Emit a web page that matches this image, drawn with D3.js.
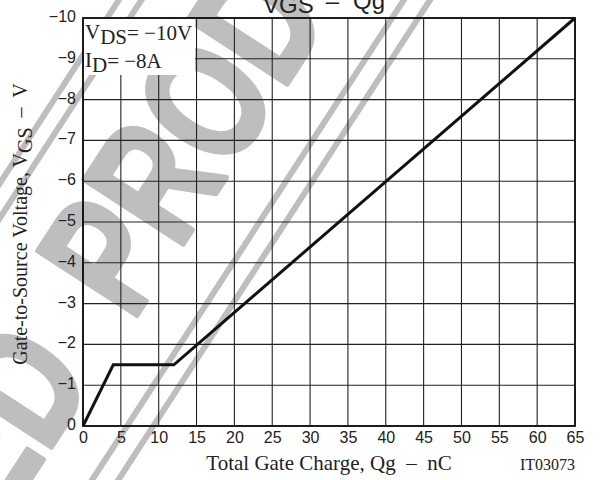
<!DOCTYPE html>
<html>
<head>
<meta charset="utf-8">
<script src="https://cdn.jsdelivr.net/npm/d3@7"></script>
<style>
  body { margin: 0; background: #fff; }
  svg { display: block; }
  .sans { font-family: 'Liberation Sans', Arial, sans-serif; }
  .serif { font-family: 'Liberation Serif', 'Times New Roman', serif; }
</style>
</head>
<body>
<div id="chart"></div>
<script>
// gate charge curve
const qg = [0, 4, 12, 65]
const vgs = [0, -1.5, -1.5, -10]

const xTicks = [0, 5, 10, 15, 20, 25, 30, 35, 40, 45, 50, 55, 60, 65]
const yTicks = [0, -1, -2, -3, -4, -5, -6, -7, -8, -9, -10]

const conditions = [
  { main: 'V', sub: 'DS', rest: '= \u221210V' },
  { main: 'I', sub: 'D', rest: '= \u22128A' },
]

const params = {
  width: 603,
  height: 480,
  left: 83,
  right: 575,
  top: 18,
  bottom: 426,
}

const svg = d3.select('#chart')
  .append('svg')
  .attr('width', params.width)
  .attr('height', params.height)

// watermark behind everything
const wm = svg.append('g')
  .attr('transform', 'translate(132,323) rotate(-57)')
  .attr('fill', '#bebebe')

const wmText = wm.append('g')
  .attr('transform', 'scale(0.74,1)')
  .attr('class', 'sans')
  .attr('stroke', '#bebebe')
  .attr('stroke-width', 5)
  .attr('stroke-linejoin', 'round')
  .style('font-weight', 'bold')
  .style('font-size', '172px')

wmText.append('text').attr('x', 0).attr('y', 0).text('PRODUCT')
wmText.append('text').attr('x', -88).attr('y', 0).attr('text-anchor', 'end').text('DISCONTINUED')

wm.selectAll('line')
  .data([52, 74, -168, -187])
  .enter()
  .append('line')
  .attr('x1', -700).attr('x2', 700)
  .attr('y1', d => d).attr('y2', d => d)
  .attr('stroke', '#bebebe')
  .attr('stroke-width', 6)

const x = d3.scaleLinear().domain([0, 65]).range([params.left, params.right])
const y = d3.scaleLinear().domain([0, -10]).range([params.bottom, params.top])

// grid
const grid = svg.append('g')
  .attr('stroke', '#222')
  .attr('stroke-width', 1.1)

grid.selectAll('.vx')
  .data(xTicks)
  .enter()
  .append('line')
  .attr('x1', d => x(d)).attr('x2', d => x(d))
  .attr('y1', y(0)).attr('y2', y(-10))

grid.selectAll('.hy')
  .data(yTicks)
  .enter()
  .append('line')
  .attr('x1', x(0)).attr('x2', x(65))
  .attr('y1', d => y(d)).attr('y2', d => y(d))

// white box for the test conditions
svg.append('rect')
  .attr('x', x(0) + 1)
  .attr('y', y(-10) + 1)
  .attr('width', x(15) - x(0) - 2.5)
  .attr('height', 56)
  .attr('fill', '#fff')

// frame
svg.append('rect')
  .attr('x', x(0)).attr('y', y(-10))
  .attr('width', x(65) - x(0))
  .attr('height', y(0) - y(-10))
  .attr('fill', 'none')
  .attr('stroke', '#111')
  .attr('stroke-width', 1.8)

// curve
const line = d3.line()
  .x((d, i) => x(qg[i]))
  .y(d => y(d))

svg.append('path')
  .datum(vgs)
  .attr('d', line)
  .attr('fill', 'none')
  .attr('stroke', '#111')
  .attr('stroke-width', 3)
  .attr('stroke-linejoin', 'miter')

// axes labels (no tick marks)
const yAxis = d3.axisLeft(y).tickValues(yTicks).tickSize(0).tickPadding(7)
const xAxis = d3.axisBottom(x).tickValues(xTicks).tickSize(0).tickPadding(6)

const gy = svg.append('g')
  .attr('transform', `translate(${params.left},0)`)
  .call(yAxis)
gy.select('.domain').remove()
gy.selectAll('text')
  .attr('class', 'sans')
  .style('font-size', '16px')
  .attr('dy', '0.22em')
  .attr('fill', '#222')

const gx = svg.append('g')
  .attr('transform', `translate(0,${params.bottom})`)
  .call(xAxis)
gx.select('.domain').remove()
gx.selectAll('text')
  .attr('class', 'sans')
  .style('font-size', '16px')
  .attr('fill', '#222')

// conditions text
const cond = svg.append('g').attr('class', 'serif').style('font-size', '21px').attr('fill', '#222')
conditions.forEach((c, i) => {
  const t = cond.append('text')
    .attr('x', params.left + 2)
    .attr('y', 39 + i * 28)
  t.append('tspan').text(c.main)
  t.append('tspan').attr('dy', 5).text(c.sub)
  t.append('tspan').attr('dy', -4).text(c.rest)
})

// titles
const title = svg.append('text')
  .attr('class', 'sans')
  .attr('x', 263)
  .attr('y', 13)
  .style('font-size', '24px')
  .attr('fill', '#222')
title.append('tspan').text('VGS')
title.append('tspan').attr('dy', -4).attr('dx', 12).text('\u2013')
title.append('tspan').attr('dx', 14).text('Qg')

svg.append('text')
  .attr('class', 'serif')
  .attr('x', 329)
  .attr('y', 470)
  .attr('text-anchor', 'middle')
  .style('font-size', '21px')
  .style('white-space', 'pre')
  .attr('fill', '#222')
  .text('Total Gate Charge, Qg  \u2013  nC')

svg.append('text')
  .attr('class', 'serif')
  .attr('x', params.right)
  .attr('y', 470)
  .attr('text-anchor', 'end')
  .style('font-size', '16px')
  .attr('fill', '#222')
  .text('IT03073')

const ylab = svg.append('text')
  .attr('class', 'serif')
  .attr('transform', 'translate(27,224) rotate(-90)')
  .attr('text-anchor', 'middle')
  .style('font-size', '20px')
  .style('white-space', 'pre')
  .attr('fill', '#222')
ylab.append('tspan').text('Gate-to-Source Voltage, V')
ylab.append('tspan').attr('dy', 5).text('GS')
ylab.append('tspan').attr('dy', -5).text('  \u2013  V')
</script>
</body>
</html>
